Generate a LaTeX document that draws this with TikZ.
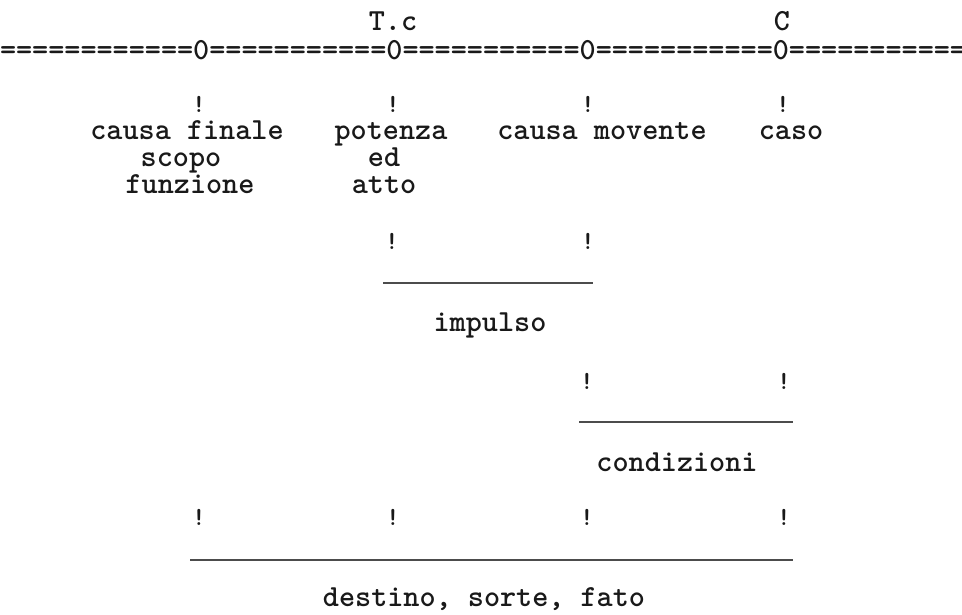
\documentclass[tikz,border=0pt]{standalone}
\begin{document}
\begin{tikzpicture}[x=1pt,y=-1pt,
  tw/.style={inner sep=0pt,outer sep=0pt,anchor=base,text=black!90,
    font=\fontsize{30.67}{32}\selectfont\ttfamily\bfseries},
  bang/.style={tw,font=\fontsize{26}{28}\selectfont\ttfamily\bfseries},
  rule/.style={line width=1.7pt,black!70}]
\useasboundingbox (0,0) rectangle (962,614);
% top labels and axis
\node[tw] (tc) at (393,30) {T.c};
\node[tw] (cc) at (782,30) {C};
\node[tw,anchor=base west] (axis) at (0,59)
  {\makebox[961pt][l]{============0===========0===========0===========0===========}};
% first row of marks
\node[bang] (m1) at (199,112) {!};
\node[bang] (m2) at (393,112) {!};
\node[bang] (m3) at (588,112) {!};
\node[bang] (m4) at (783,112) {!};
% first row of terms
\node[tw] (cfin) at (187,139.5) {causa finale};
\node[tw] (scopo) at (181,166.5) {scopo};
\node[tw] (funz) at (190,193.5) {funzione};
\node[tw] (pot) at (391,139.5) {potenza};
\node[tw] (ed) at (384,166.5) {ed};
\node[tw] (atto) at (384,193.5) {atto};
\node[tw] (cmov) at (602,139.5) {causa movente};
\node[tw] (caso) at (791,139.5) {caso};
% impulso
\node[bang] (i1) at (392,249) {!};
\node[bang] (i2) at (588,249) {!};
\coordinate (ia) at (383,283);
\coordinate (ib) at (593,283);
\draw[rule] (ia) -- (ib);
\node[tw] (imp) at (490,331.5) {impulso};
% condizioni
\node[bang] (k1) at (587,389) {!};
\node[bang] (k2) at (784,389) {!};
\coordinate (ka) at (579,422);
\coordinate (kb) at (793,422);
\draw[rule] (ka) -- (kb);
\node[tw] (cond) at (677,471.5) {condizioni};
% destino
\node[bang] (d1) at (199,525) {!};
\node[bang] (d2) at (393,525) {!};
\node[bang] (d3) at (587,525) {!};
\node[bang] (d4) at (784,525) {!};
\coordinate (da) at (190,560);
\coordinate (db) at (793,560);
\draw[rule] (da) -- (db);
\node[tw] (dest) at (484,606) {destino, sorte, fato};
\end{tikzpicture}
\end{document}
